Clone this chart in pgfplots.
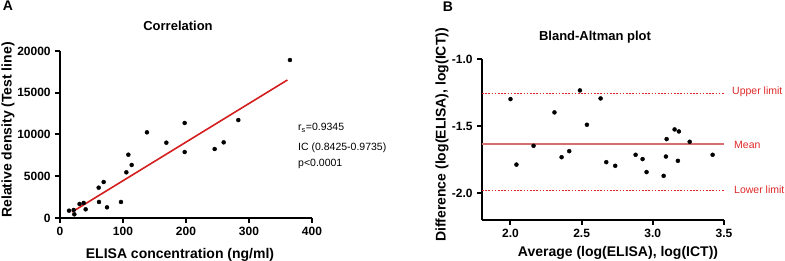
\documentclass[border=0pt]{standalone}
\usepackage{fontspec}
\setmainfont{Liberation Sans}
\usepackage{pgfplots}
\pgfplotsset{compat=1.18}

\definecolor{regred}{RGB}{212,30,30}
\definecolor{meanred}{RGB}{214,112,112}
\definecolor{limred}{RGB}{222,40,40}

\pgfplotstableread{
x y
14.3 875
21.7 960
22.8 440
31.0 1680
37.6 1800
40.7 1040
61.4 3630
61.9 1920
69.3 4310
74.6 1280
96.8 1920
105.3 5470
108.5 7580
113.8 6350
138.0 10260
168.8 9020
197.9 11380
197.9 7900
245.5 8260
259.8 9060
283.0 11730
365.0 18920
}\corrdata

\pgfplotstableread{
x y
2.000 -1.299
2.042 -1.787
2.162 -1.647
2.309 -1.398
2.359 -1.732
2.413 -1.687
2.488 -1.234
2.537 -1.490
2.633 -1.294
2.673 -1.769
2.736 -1.796
2.879 -1.714
2.928 -1.746
2.956 -1.843
3.076 -1.871
3.092 -1.727
3.097 -1.597
3.153 -1.525
3.176 -1.759
3.183 -1.540
3.259 -1.617
3.420 -1.714
}\badata

\pgfplotsset{
  every axis/.append style={line width=2pt},
  prism/.style={
  scale only axis,
  line width=2pt,
  axis x line*=bottom, axis y line*=left,
  axis line style={line width=2pt, draw=black},
  every tick/.append style={line width=2pt, draw=black},
  tick align=outside, major tick length=5pt,
  ticklabel style={font=\fontsize{12}{14}\selectfont\bfseries},
  /pgf/number format/assume math mode=true,
  /pgf/number format/1000 sep={},
  scaled ticks=false,
  clip=false,
}}

\begin{document}
\begin{tikzpicture}[x=1pt,y=1pt]
\path[use as bounding box] (0pt,0pt) rectangle (785pt,261pt);

\begin{axis}[prism,
  at={(60pt,43pt)}, anchor=south west, width=252pt, height=167pt,
  xmin=0, xmax=400, ymin=0, ymax=20000,
  xtick={0,100,200,300,400}, ytick={0,5000,10000,15000,20000},
]
\addplot[only marks, mark=*, mark size=2pt, black, mark options={line width=0.4pt}] table[x=x,y=y] {\corrdata};
\addplot[regred, line width=1.6pt] coordinates {(19,720) (361,16530)};
\end{axis}

\begin{axis}[prism,
  at={(482pt,41pt)}, anchor=south west, width=242pt, height=161pt,
  xmin=1.8, xmax=3.5, ymin=-2.2, ymax=-1.0,
  xtick={2.0,2.5,3.0,3.5}, xticklabels={2.0,2.5,3.0,3.5},
  ytick={-2.0,-1.5,-1.0}, yticklabels={-2.0,-1.5,-1.0},
]
\addplot[draw=meanred, line width=2pt] coordinates {(1.8,-1.630) (3.5,-1.630)};
\addplot[draw=limred, line width=1.1pt, dash pattern=on 1.6pt off 1.6pt] coordinates {(1.8,-1.259) (3.5,-1.259)};
\addplot[draw=limred, line width=1.1pt, dash pattern=on 1.6pt off 1.6pt] coordinates {(1.8,-1.978) (3.5,-1.978)};
\addplot[only marks, mark=*, mark size=2pt, black, mark options={line width=0.4pt}] table[x=x,y=y] {\badata};
\end{axis}

% panel letters and titles
\node[font=\fontsize{14}{16}\selectfont\bfseries] at (8pt,255pt) {A};
\node[font=\fontsize{14}{16}\selectfont\bfseries] at (448pt,254pt) {B};
\node[font=\fontsize{13}{15}\selectfont\bfseries] at (178pt,235pt) {Correlation};
\node[font=\fontsize{13}{15}\selectfont\bfseries] at (595pt,224pt) {Bland-Altman plot};

% axis labels
\node[font=\fontsize{14}{16}\selectfont\bfseries, rotate=90] at (8pt,131pt) {Relative density (Test line)};
\node[font=\fontsize{14}{16}\selectfont\bfseries] at (180pt,6pt) {ELISA concentration (ng/ml)};
\node[font=\fontsize{14}{16}\selectfont\bfseries, rotate=90] at (442pt,126pt) {Difference (log(ELISA), log(ICT))};
\node[font=\fontsize{14}{16}\selectfont\bfseries] at (618pt,8pt) {Average (log(ELISA), log(ICT))};

% stats annotation
\node[anchor=west, font=\fontsize{10.5}{12}\selectfont, inner sep=0pt] at (298pt,133pt) {r\textsubscript{s}=0.9345};
\node[anchor=west, font=\fontsize{10.5}{12}\selectfont, inner sep=0pt] at (298pt,113pt) {IC (0.8425-0.9735)};
\node[anchor=west, font=\fontsize{10.5}{12}\selectfont, inner sep=0pt] at (298pt,97pt) {p<0.0001};

% limit labels
\node[anchor=west, font=\fontsize{10.5}{12}\selectfont, text=limred, inner sep=0pt] at (732pt,169pt) {Upper limit};
\node[anchor=west, font=\fontsize{10.5}{12}\selectfont, text=limred, inner sep=0pt] at (734pt,116pt) {Mean};
\node[anchor=west, font=\fontsize{10.5}{12}\selectfont, text=limred, inner sep=0pt] at (734pt,71pt) {Lower limit};
\end{tikzpicture}
\end{document}
